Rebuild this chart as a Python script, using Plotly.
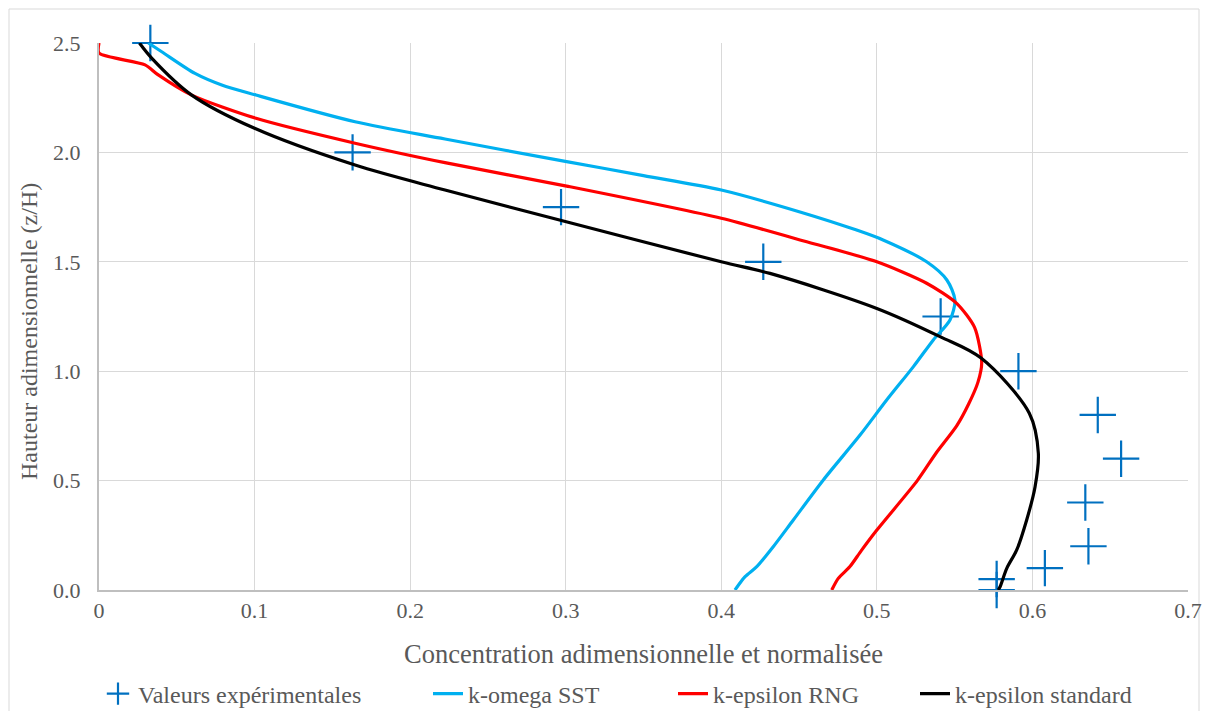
import plotly.graph_objects as go

# Experimental data
exp_x = [0.033, 0.163, 0.297, 0.427, 0.541, 0.591, 0.642, 0.657, 0.634, 0.636, 0.608, 0.577, 0.577]
exp_y = [2.5, 2.0, 1.75, 1.5, 1.25, 1.0, 0.8, 0.6, 0.4, 0.2, 0.1, 0.05, 0.0]

# k-omega SST
sst_x = [0.0317, 0.0403, 0.0617, 0.0789, 0.1009, 0.1646, 0.2224, 0.3006, 0.35, 0.4,
         0.4506, 0.487, 0.504, 0.532, 0.545, 0.5502, 0.547, 0.5363, 0.5235, 0.5063, 0.4892,
         0.4656, 0.4463, 0.4334, 0.4228, 0.4153, 0.4088]
sst_y = [2.5, 2.46, 2.361, 2.308, 2.262, 2.14, 2.061, 1.958, 1.894, 1.828,
         1.728, 1.645, 1.60, 1.50, 1.417, 1.325, 1.234, 1.143, 1.021, 0.868, 0.708,
         0.503, 0.32, 0.198, 0.107, 0.061, 0.0]

# k-epsilon RNG
rng_x = [0.0, 0.0, 0.0296, 0.0381, 0.0596, 0.1009, 0.1646, 0.2224, 0.3006, 0.4, 0.4506,
         0.5, 0.532, 0.5513, 0.5628, 0.5674, 0.565, 0.559, 0.5513, 0.538, 0.526, 0.5,
         0.49, 0.4827, 0.4752, 0.471]
rng_y = [2.5, 2.454, 2.40, 2.354, 2.262, 2.156, 2.042, 1.953, 1.846, 1.699, 1.60,
         1.5, 1.402, 1.31, 1.20, 1.04, 0.95, 0.85, 0.75, 0.625, 0.5, 0.274,
         0.18, 0.107, 0.053, 0.0]

# k-epsilon standard
std_x = [0.026, 0.034, 0.0596, 0.1, 0.1646, 0.2224, 0.296, 0.4, 0.4313, 0.5, 0.5406,
         0.567, 0.598, 0.6038, 0.6017, 0.5963, 0.5899, 0.5835, 0.5792, 0.578]
std_y = [2.5, 2.43, 2.262, 2.11, 1.942, 1.828, 1.691, 1.50, 1.447, 1.287, 1.158,
         1.06, 0.808, 0.625, 0.472, 0.32, 0.183, 0.099, 0.015, 0.0]

x_ticks = [0, 0.1, 0.2, 0.3, 0.4, 0.5, 0.6, 0.7]
x_tick_labels = ["0", "0.1", "0.2", "0.3", "0.4", "0.5", "0.6", "0.7"]
y_ticks = [0, 0.5, 1.0, 1.5, 2.0, 2.5]
y_tick_labels = ["0.0", "0.5", "1.0", "1.5", "2.0", "2.5"]

FONT = "Liberation Serif"
GREY = "#595959"

# page body margin is removed (post_script), so figure sits at (0, 0)
W, H = 1208, 711
L, R, T, B = 99, 20, 43, 121
PW, PH = W - L - R, H - T - B


def px_x(screen_x):
    return (screen_x - L) / PW


def px_y(screen_y):
    return (H - B - screen_y) / PH


fig = go.Figure()
fig.add_trace(go.Scatter(x=exp_x, y=exp_y, mode="markers", name="Valeurs expérimentales",
                         marker=dict(symbol="cross-thin", size=26, color="#0070C0",
                                     line=dict(color="#0070C0", width=2.2)),
                         cliponaxis=False, legend="legend"))
fig.add_trace(go.Scatter(x=sst_x, y=sst_y, mode="lines", name="k-omega SST",
                         line=dict(color="#00B0F0", width=3.2, shape="spline", smoothing=0.8),
                         legend="legend2"))
fig.add_trace(go.Scatter(x=rng_x, y=rng_y, mode="lines", name="k-epsilon RNG",
                         line=dict(color="#FF0000", width=3.2, shape="spline", smoothing=0.7),
                         legend="legend3"))
fig.add_trace(go.Scatter(x=std_x, y=std_y, mode="lines", name="k-epsilon standard",
                         line=dict(color="#000000", width=3.2, shape="spline", smoothing=0.9),
                         legend="legend4"))

leg_common = dict(orientation="h", yanchor="middle", xanchor="left", y=px_y(694),
                  font=dict(family=FONT, size=24, color=GREY), bgcolor="rgba(0,0,0,0)")

fig.update_layout(
    width=W, height=H,
    margin=dict(l=L, r=R, t=T, b=B, autoexpand=False),
    paper_bgcolor="white", plot_bgcolor="white",
    font=dict(family=FONT, color=GREY, size=22),
    showlegend=True,
    legend=dict(x=px_x(98), **leg_common),
    legend2=dict(x=px_x(428), **leg_common),
    legend3=dict(x=px_x(673), **leg_common),
    legend4=dict(x=px_x(915), **leg_common),
    xaxis=dict(range=[0, 0.7], tickvals=x_ticks, ticktext=x_tick_labels,
               showgrid=True, gridcolor="#d9d9d9", gridwidth=1,
               zeroline=False, showline=True, linecolor="#bfbfbf", linewidth=2,
               ticks="", tickfont=dict(family=FONT, size=22, color=GREY),
               ticklabeloverflow="allow",
               title=dict(text="Concentration adimensionnelle et normalisée",
                          font=dict(family=FONT, size=26.5, color=GREY), standoff=22)),
    yaxis=dict(range=[0, 2.5], tickvals=y_ticks, ticktext=y_tick_labels,
               showgrid=True, gridcolor="#d9d9d9", gridwidth=1,
               zeroline=False, showline=True, linecolor="#bfbfbf", linewidth=2,
               ticks="", tickfont=dict(family=FONT, size=22, color=GREY),
               ticklabelstandoff=12),
    annotations=[dict(text="Hauteur adimensionnelle (z/H)", textangle=-90,
                      xref="paper", yref="paper", x=px_x(29), y=px_y(332),
                      xanchor="center", yanchor="middle", showarrow=False,
                      font=dict(family=FONT, size=24, color=GREY))],
    shapes=[dict(type="rect", xref="paper", yref="paper",
                 x0=px_x(9), x1=px_x(1199), y0=px_y(716), y1=px_y(9),
                 line=dict(color="#d9d9d9", width=1), fillcolor="rgba(0,0,0,0)", layer="below")],
)
fig.write_html("out.html", config={"displayModeBar": False},
               post_script="document.body.style.margin='0';")
